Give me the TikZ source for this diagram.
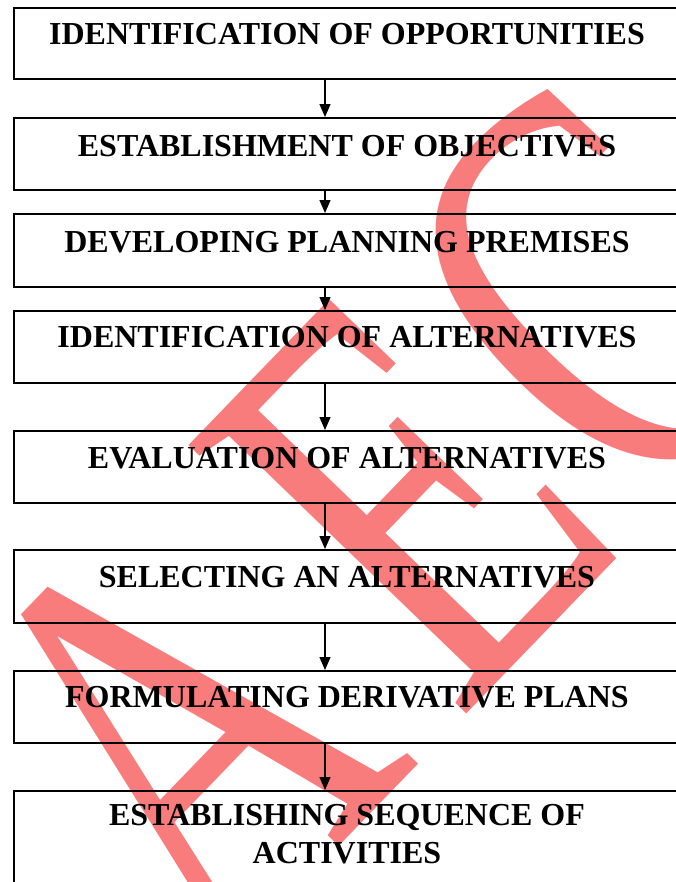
\documentclass[tikz,border=0pt]{standalone}
\usepackage{fontspec}
\setmainfont{Liberation Serif}
\newfontfamily\wmfont[FakeStretch=0.7]{Liberation Serif}
\usetikzlibrary{arrows.meta,calc}
\definecolor{wm}{RGB}{248,124,124}
\begin{document}
\begin{tikzpicture}[x=1bp,y=-1bp,
  box/.style={draw=black, line width=1.8bp, minimum width=668bp, inner sep=0pt, anchor=north west},
  lbl/.style={font=\bfseries\fontsize{32bp}{38bp}\selectfont, anchor=base, inner sep=0pt, align=center},
  flow/.style={line width=1.3bp, -{Triangle[length=13bp,width=11bp]}},
  wmark/.style={text=wm, font=\wmfont\fontsize{590bp}{590bp}\selectfont, rotate=46, anchor=base west, inner sep=0pt}]
\useasboundingbox (0,0) rectangle (676,882);
\clip (0,0) rectangle (676,882);
\fill[white] (0,0) rectangle (676,882);
\node[wmark] (wm) at (213,977) {A\kern55bp E\kern18bp C};
\coordinate (ax) at (325,0);
\node[box, minimum height=71bp] (b1) at (13,7) {};
\node[box, minimum height=72bp] (b2) at (13,117) {};
\node[box, minimum height=73bp] (b3) at (13,213) {};
\node[box, minimum height=72bp] (b4) at (13,310) {};
\node[box, minimum height=72bp] (b5) at (13,430) {};
\node[box, minimum height=73bp] (b6) at (13,549) {};
\node[box, minimum height=72bp] (b7) at (13,670) {};
\node[box, minimum height=120bp] (b8) at (13,790) {};
\node[lbl] (t1) at (347,44) {IDENTIFICATION OF OPPORTUNITIES};
\node[lbl] (t2) at (347,156) {ESTABLISHMENT OF OBJECTIVES};
\node[lbl] (t3) at (347,252) {DEVELOPING PLANNING PREMISES};
\node[lbl] (t4) at (347,347) {IDENTIFICATION OF ALTERNATIVES};
\node[lbl] (t5) at (347,468) {EVALUATION OF ALTERNATIVES};
\node[lbl] (t6) at (347,587) {SELECTING AN ALTERNATIVES};
\node[lbl] (t7) at (347,707) {FORMULATING DERIVATIVE PLANS};
\node[lbl] (t8) at (347,863) {ESTABLISHING SEQUENCE OF\\ACTIVITIES};
\draw[flow] (b1.south -| ax) -- (b2.north -| ax);
\draw[flow] (b2.south -| ax) -- (b3.north -| ax);
\draw[flow] (b3.south -| ax) -- (b4.north -| ax);
\draw[flow] (b4.south -| ax) -- (b5.north -| ax);
\draw[flow] (b5.south -| ax) -- (b6.north -| ax);
\draw[flow] (b6.south -| ax) -- (b7.north -| ax);
\draw[flow] (b7.south -| ax) -- (b8.north -| ax);
\end{tikzpicture}
\end{document}
